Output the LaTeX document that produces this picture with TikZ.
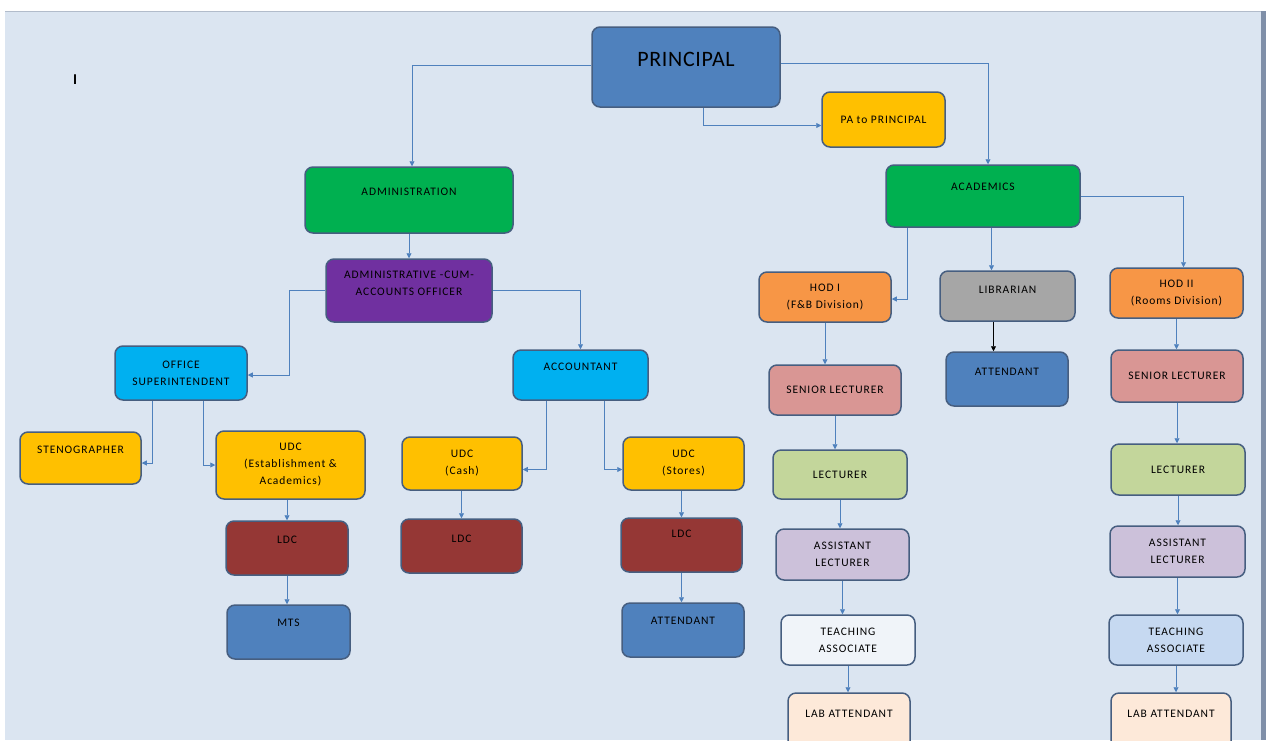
\documentclass[tikz,border=0pt]{standalone}
\usepackage{fontspec}
\setmainfont{Carlito}
\newfontfamily\chartfont[LetterSpace=8]{Carlito}
\newfontfamily\headfont[LetterSpace=3]{Carlito}
\usepackage{tikz}
\usetikzlibrary{arrows.meta, positioning, calc}
\definecolor{pagebg}{RGB}{219, 229, 241}
\definecolor{edgeline}{RGB}{127, 143, 168}
\definecolor{linkblue}{RGB}{79, 129, 189}
\definecolor{boxline}{RGB}{70, 94, 128}
\definecolor{headblue}{RGB}{79, 129, 189}
\definecolor{paorange}{RGB}{255, 192, 0}
\definecolor{deptgreen}{RGB}{0, 176, 80}
\definecolor{officerpurple}{RGB}{112, 48, 160}
\definecolor{staffcyan}{RGB}{0, 176, 240}
\definecolor{clerkred}{RGB}{149, 55, 53}
\definecolor{hodorange}{RGB}{247, 150, 70}
\definecolor{libgray}{RGB}{166, 166, 166}
\definecolor{seniorpink}{RGB}{217, 150, 148}
\definecolor{lectgreen}{RGB}{195, 214, 155}
\definecolor{asstlilac}{RGB}{204, 193, 218}
\definecolor{teachwhite}{RGB}{240, 244, 249}
\definecolor{teachblue}{RGB}{198, 217, 241}
\definecolor{labpeach}{RGB}{253, 233, 217}

\begin{document}
\begin{tikzpicture}[x=1pt, y=-1pt,
    post/.style={rectangle, rounded corners=8pt, draw=boxline, line width=1.5pt, align=center,
        font=\chartfont\fontsize{11.5}{17}\selectfont, text=black},
    box/.style 2 args={minimum width=#1pt, minimum height=#2pt},
    lift/.style={text depth=#1pt},
    conn/.style={draw=linkblue, line width=0.8pt, -{Triangle[length=5pt, width=5pt]}}]
    \useasboundingbox (0,0) rectangle (1266,740);
    \fill[white] (0,0) rectangle (1266,740);
    \fill[pagebg] (5,11) rectangle (1262,740);
    \draw[edgeline!60, line width=1pt] (5,11) -- (1262,11);
    \fill[edgeline] (1261,11) rectangle (1266,740);
    \node[font=\bfseries\fontsize{15}{16}\selectfont] (cursor) at (75,80) {I};

    % top level
    \node[post, box={188}{80}, lift=16, fill=headblue, font=\headfont\fontsize{22}{26}\selectfont] (principal) at (686,67) {PRINCIPAL};
    \node[post, box={123}{55}, fill=paorange] (pa) at (883.5,119.5) {PA to PRINCIPAL};
    \node[post, box={208}{66}, lift=16, fill=deptgreen] (admin) at (409,200) {ADMINISTRATION};
    \node[post, box={194}{62}, lift=18, fill=deptgreen] (acad) at (983,196) {ACADEMICS};

    % administration side
    \node[post, box={166}{63}, lift=15, fill=officerpurple] (ao) at (409,290.5) {ADMINISTRATIVE -CUM-\\ACCOUNTS OFFICER};
    \node[post, box={132}{54}, fill=staffcyan] (os) at (181,373) {OFFICE\\SUPERINTENDENT};
    \node[post, box={135}{50}, lift=16, fill=staffcyan] (acct) at (580.5,375) {ACCOUNTANT};
    \node[post, box={121}{52}, lift=16, fill=paorange] (steno) at (80.5,458) {STENOGRAPHER};
    \node[post, box={149}{68}, fill=paorange] (udcE) at (290.5,465) {UDC\\(Establishment \&\\Academics)};
    \node[post, box={120}{53}, fill=paorange] (udcC) at (462,463.5) {UDC\\(Cash)};
    \node[post, box={121}{53}, fill=paorange] (udcS) at (683.5,463.5) {UDC\\(Stores)};
    \node[post, box={122}{54}, lift=16, fill=clerkred] (ldcE) at (287,548) {LDC};
    \node[post, box={121}{54}, lift=14, fill=clerkred] (ldcC) at (461.5,546) {LDC};
    \node[post, box={121}{54}, lift=22, fill=clerkred] (ldcS) at (681.5,545) {LDC};
    \node[post, box={123}{54}, lift=18, fill=headblue] (mts) at (288.5,632) {MTS};
    \node[post, box={122}{54}, lift=18, fill=headblue] (attS) at (683,630) {ATTENDANT};

    % academics side
    \node[post, box={132}{50}, fill=hodorange] (hodA) at (825,297) {HOD I\\(F\&B Division)};
    \node[post, box={135}{50}, lift=12, fill=libgray] (lib) at (1007.5,296) {LIBRARIAN};
    \node[post, box={122}{54}, lift=14, fill=headblue] (attL) at (1007,379) {ATTENDANT};
    \node[post, box={133}{50}, fill=hodorange] (hodB) at (1176.5,293) {HOD II\\(Rooms Division)};
    \node[post, box={132}{50}, fill=seniorpink] (slA) at (835,390) {SENIOR LECTURER};
    \node[post, box={132}{52}, fill=seniorpink] (slB) at (1177,376) {SENIOR LECTURER};
    \node[post, box={134}{49}, fill=lectgreen] (lecA) at (840,474.5) {LECTURER};
    \node[post, box={134}{51}, fill=lectgreen] (lecB) at (1178,469.5) {LECTURER};
    \node[post, box={133}{51}, fill=asstlilac] (alA) at (842.5,554.5) {ASSISTANT\\LECTURER};
    \node[post, box={135}{51}, fill=asstlilac] (alB) at (1177.5,551.5) {ASSISTANT\\LECTURER};
    \node[post, box={134}{50}, fill=teachwhite] (taA) at (848,640) {TEACHING\\ASSOCIATE};
    \node[post, box={134}{50}, fill=teachblue] (taB) at (1176,640) {TEACHING\\ASSOCIATE};
    \node[post, box={122}{60}, lift=18, fill=labpeach] (labA) at (849,723) {LAB ATTENDANT};
    \node[post, box={120}{60}, lift=18, fill=labpeach] (labB) at (1171,723) {LAB ATTENDANT};

    % connectors
    \draw[conn] ([yshift=2pt]principal.west) -| ([xshift=3pt]admin.north);
    \draw[conn] ([yshift=4pt]principal.east) -| ([xshift=5pt]acad.north);
    \draw[conn] ([xshift=17pt]principal.south) |- ([yshift=-6pt]pa.west);
    \draw[conn] (admin.south) -- (ao.north);
    \draw[conn] (ao.west) -- ++(-36,0) |- ([yshift=-2pt]os.east);
    \draw[conn] (ao.east) -| (acct.north);
    \draw[conn] ([xshift=-29pt]os.south) |- ([yshift=-5pt]steno.east);
    \draw[conn] ([xshift=22pt]os.south) |- (udcE.west);
    \draw[conn] ([xshift=-34.5pt]acct.south) |- ([yshift=-6pt]udcC.east);
    \draw[conn] ([xshift=23.5pt]acct.south) |- ([yshift=-6pt]udcS.west);
    \draw[conn] (ldcE.north |- udcE.south) -- (ldcE.north);
    \draw[conn] (ldcE.south) -- (ldcE.south |- mts.north);
    \draw[conn] (ldcC.north |- udcC.south) -- (ldcC.north);
    \draw[conn] (ldcS.north |- udcS.south) -- (ldcS.north);
    \draw[conn] (ldcS.south) -- (ldcS.south |- attS.north);
    \draw[conn] ([xshift=-76pt]acad.south) |- ([yshift=-2pt]hodA.east);
    \draw[conn] ([xshift=-16pt]lib.north |- acad.south) -- ([xshift=-16pt]lib.north);
    \draw[conn] (acad.east) -| ([xshift=7pt]hodB.north);
    \draw[conn, draw=black] ([xshift=-14pt]lib.south) -- ([xshift=-14pt]lib.south |- attL.north);
    \draw[conn] (hodA.south) -- (hodA.south |- slA.north);
    \draw[conn] (slA.south) -- (slA.south |- lecA.north);
    \draw[conn] (lecA.south) -- (lecA.south |- alA.north);
    \draw[conn] (alA.south) -- (alA.south |- taA.north);
    \draw[conn] (taA.south) -- (taA.south |- labA.north);
    \draw[conn] (hodB.south) -- (hodB.south |- slB.north);
    \draw[conn] (slB.south) -- (slB.south |- lecB.north);
    \draw[conn] (lecB.south) -- (lecB.south |- alB.north);
    \draw[conn] (alB.south) -- (alB.south |- taB.north);
    \draw[conn] (taB.south) -- (taB.south |- labB.north);
\end{tikzpicture}
\end{document}
